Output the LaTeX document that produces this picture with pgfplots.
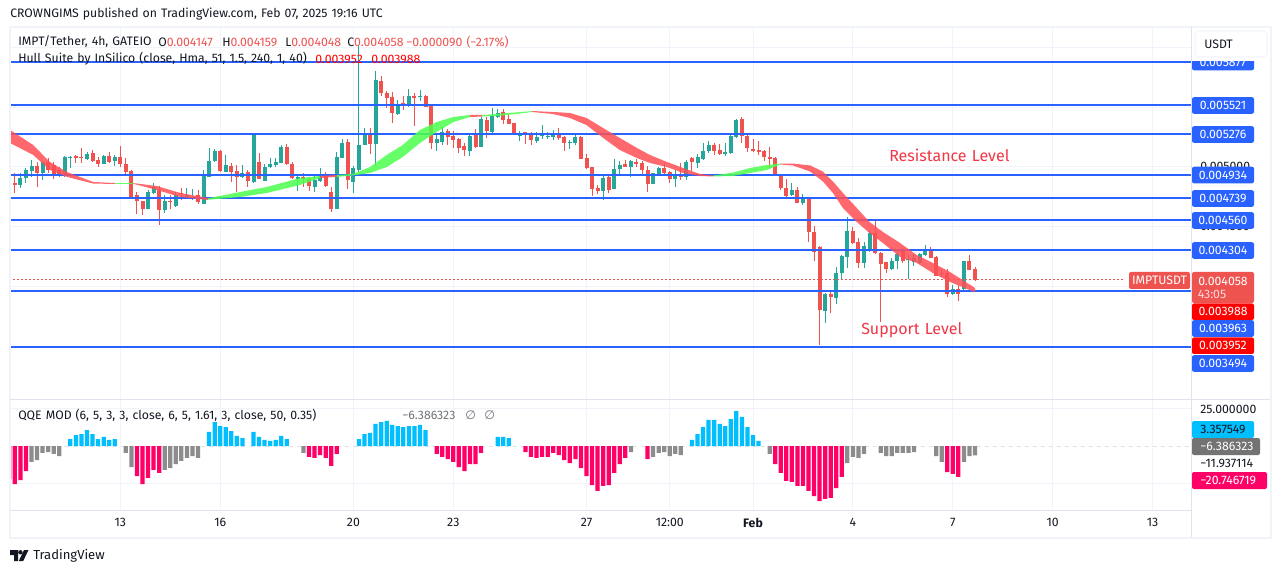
\documentclass[border=0pt]{standalone}
\usepackage{fontspec}
\setmainfont{Fira Sans}[WordSpace=1.25]
\newfontfamily\sym{DejaVu Sans}
\usepackage{pgfplots}
\usepackage{pgfplotstable}
\pgfplotsset{compat=1.18}
\definecolor{cg}{HTML}{26A69A}
\definecolor{cr}{HTML}{EF5350}
\definecolor{lb}{HTML}{2962FF}
\definecolor{hr}{HTML}{FF4F55}
\definecolor{hg}{HTML}{4DFF4D}
\definecolor{qb}{HTML}{00BFFF}
\definecolor{qp}{HTML}{FF0066}
\definecolor{qg}{HTML}{8C8C8C}
\definecolor{gr}{HTML}{F0F3FA}
\definecolor{fr}{HTML}{E0E3EB}
\definecolor{tx}{HTML}{131722}
\definecolor{lab}{HTML}{F23645}
\pgfplotstableread{
i o h l c
2 4849 4947 4827 4905
3 4910 4994 4863 4974
4 4966 5058 4919 5008
6 4952 5053 4891 5039
10 4924 5092 4919 5086
11 5075 5092 4988 5080
14 5064 5128 5058 5108
17 5025 5100 5025 5092
19 5050 5100 5008 5086
25 4648 4807 4648 4788
26 4779 4869 4774 4830
28 4640 4765 4618 4715
30 4673 4788 4668 4765
32 4738 4821 4729 4765
33 4740 4813 4724 4751
35 4690 4974 4690 4933
36 4919 5156 4919 5050
37 5050 5150 5044 5136
39 4961 5100 4961 5016
42 4913 5016 4905 4947
44 4877 5281 4869 5281
46 4885 5025 4885 5002
47 4997 5072 4988 5025
48 5016 5072 5002 5044
49 5030 5183 5030 5170
52 4899 4941 4802 4919
55 4835 4924 4793 4891
56 4883 4988 4877 4924
59 4648 5127 4648 5085
60 5077 5233 5077 5202
62 4876 5007 4779 4988
63 4974 6020 4960 5183
64 5183 5322 5183 5280
66 5191 5801 5015 5726
70 5442 5559 5434 5526
72 5512 5651 5509 5595
74 5587 5643 5553 5592
77 5202 5272 5135 5236
78 5205 5342 5183 5294
83 5133 5280 5091 5258
85 5169 5420 5169 5397
87 5291 5489 5280 5428
88 5420 5481 5411 5447
92 5258 5300 5219 5280
95 5216 5289 5202 5252
96 5261 5350 5230 5275
97 5250 5289 5230 5258
98 5252 5308 5225 5286
101 5205 5225 5149 5211
102 5197 5266 5183 5252
107 4801 4937 4723 4910
109 4815 5066 4815 4982
110 4982 5049 4940 5015
112 4999 5057 4918 5049
116 4857 4951 4857 4946
117 4940 5002 4935 4990
120 4898 4974 4829 4940
122 4912 5057 4890 5041
124 5029 5108 4988 5082
125 5066 5202 5057 5133
126 5130 5216 5113 5183
129 5110 5197 5091 5124
130 5119 5266 5113 5258
131 5252 5400 5244 5392
141 4765 4862 4759 4804
143 4701 4773 4681 4737
147 3798 3943 3697 3937
149 3901 4165 3853 4115
150 4110 4263 4062 4257
151 4249 4578 4157 4464
154 4199 4375 4157 4338
155 4299 4472 4291 4450
159 4149 4241 4138 4213
160 4213 4305 4143 4271
162 4218 4271 4062 4227
163 4207 4269 4174 4241
164 4199 4283 4193 4271
165 4263 4347 4257 4310
170 3940 4012 3929 3976
172 3976 4213 3970 4210
}\tblG
\pgfplotstableread{
i o h l c
0 5044 5044 4863 4863
1 4869 4947 4785 4849
5 5008 5044 4835 4947
7 5044 5072 4952 4974
8 5016 5044 4899 4941
9 4974 5002 4919 4933
12 5092 5100 5036 5072
13 5083 5161 5030 5075
15 5117 5142 5044 5053
16 5058 5086 4997 5022
18 5092 5128 5030 5041
20 5086 5175 5002 5022
21 5022 5072 4927 4955
22 4966 4974 4738 4751
23 4765 4793 4607 4715
24 4715 4715 4598 4648
27 4807 4841 4515 4640
29 4718 4765 4646 4710
31 4785 4821 4724 4771
34 4765 4807 4687 4704
38 5136 5142 4961 4966
40 5008 5030 4877 4955
41 4966 5016 4793 4919
43 4961 4974 4830 4885
45 5044 5114 4899 4899
50 5170 5192 5016 5022
51 5022 5044 4896 4910
53 4913 4947 4830 4899
54 4899 4919 4802 4841
57 4924 4960 4834 4840
58 4787 4834 4625 4650
61 5205 5233 4812 4890
65 5266 5322 5107 5188
67 5718 5760 5595 5620
68 5620 5637 5489 5573
69 5587 5629 5364 5453
71 5537 5592 5475 5517
73 5592 5620 5342 5573
75 5595 5604 5498 5503
76 5517 5517 5146 5197
79 5300 5314 5183 5252
80 5258 5303 5155 5225
81 5236 5244 5113 5160
82 5174 5202 5091 5141
84 5275 5316 5155 5169
86 5392 5414 5244 5300
89 5459 5481 5358 5392
90 5397 5434 5358 5358
91 5364 5369 5266 5272
93 5289 5294 5191 5277
94 5280 5294 5183 5225
99 5286 5322 5225 5244
100 5252 5258 5135 5202
103 5252 5258 5066 5066
104 5071 5105 4979 4990
105 4999 4999 4759 4818
106 4820 4848 4773 4801
108 4912 4940 4784 4806
111 5021 5057 4996 5002
113 5038 5066 4996 5024
114 5032 5052 4932 4974
115 4974 5007 4790 4857
118 4988 5029 4940 4951
119 4960 4968 4868 4898
121 4940 5029 4890 4915
123 5077 5085 4965 5038
127 5183 5197 5099 5135
128 5141 5188 5099 5108
132 5397 5414 5202 5261
133 5258 5280 5127 5158
134 5147 5233 5127 5135
135 5141 5219 5099 5121
136 5133 5141 5052 5080
137 5082 5163 4988 5066
138 5074 5080 4924 4935
139 4940 4940 4807 4823
140 4823 4896 4745 4756
142 4807 4829 4695 4701
144 4737 4742 4375 4453
145 4453 4506 4213 4291
146 4333 4338 3511 3803
148 3937 3956 3775 3915
152 4464 4500 4355 4361
153 4372 4402 4152 4199
156 4450 4556 4271 4277
157 4283 4285 3706 4191
158 4205 4205 4115 4149
161 4310 4319 4199 4213
166 4310 4333 4235 4241
167 4249 4257 4090 4090
168 4110 4146 4082 4104
169 4110 4146 3915 3940
171 3976 4012 3878 3940
173 4210 4263 4135 4138
174 4147 4159 4048 4058
}\tblR
\pgfplotstableread{
i v
11 4.7
12 7.4
13 8.1
14 10.8
15 8.1
16 4.7
17 6.1
18 4.1
19 4.7
36 9.5
37 16.2
38 13.5
39 12.8
40 10.1
41 6.8
42 5.4
44 9.5
45 6.1
46 4.1
47 3.4
48 4.1
49 6.8
50 4.7
63 4.7
64 8.1
65 8.8
66 14.9
67 16.2
68 16.9
69 14.2
70 13.5
71 12.8
72 13.5
73 13.5
74 14.2
75 10.8
88 6.1
89 6.1
90 5.4
123 4.1
124 8.1
125 12.8
126 17.6
127 17.6
128 14.9
129 13.5
130 18.2
131 23.6
132 19.6
133 12.8
134 7.4
135 3.4
}\tblQB
\pgfplotstableread{
i v
0 -22.3
1 -25.7
2 -23.0
3 -16.9
23 -20.3
24 -25.7
25 -21.6
26 -16.2
27 -18.2
54 -7.4
55 -8.1
56 -6.1
57 -8.1
58 -13.5
59 -5.4
77 -5.4
78 -7.4
79 -8.8
80 -10.8
81 -14.2
82 -16.9
83 -12.2
84 -12.2
85 -4.7
93 -4.1
94 -7.4
95 -8.1
96 -7.4
97 -7.4
98 -4.7
99 -6.1
100 -9.5
101 -11.5
102 -8.8
103 -14.9
104 -20.3
105 -26.4
106 -30.4
107 -27.0
108 -26.4
109 -18.2
110 -12.2
111 -8.1
115 -8.8
138 -12.2
139 -18.2
140 -23.6
141 -24.3
142 -27.0
143 -27.0
144 -30.4
145 -33.8
146 -37.2
147 -35.8
148 -35.1
149 -28.4
150 -20.9
169 -17.6
170 -18.9
171 -20.9
}\tblQP
\pgfplotstableread{
i v
4 -10.8
5 -9.5
6 -4.7
7 -4.1
8 -5.4
9 -6.8
21 -4.7
22 -14.2
28 -16.2
29 -14.9
30 -12.2
31 -10.1
32 -8.1
33 -6.8
34 -8.1
53 -4.7
112 -4.1
116 -7.4
117 -4.7
118 -4.1
119 -6.8
120 -5.4
121 -6.1
137 -5.4
151 -11.5
152 -7.4
153 -8.1
154 -5.4
157 -4.7
158 -6.8
159 -6.8
160 -4.7
161 -4.7
162 -4.7
163 -4.1
167 -6.8
168 -10.8
172 -10.8
173 -6.8
174 -6.386
}\tblQG
\begin{document}
\begin{tikzpicture}
\fill[white] (0,0) rectangle (960.75pt,-429.75pt);
\begin{axis}[
  at={(7.5pt,-299.25pt)},anchor=south west,
  scale only axis,width=885.75pt,height=278.25pt,
  xmin=0.126,xmax=212.919,ymin=3059.4,ymax=6161.3,
  axis line style={draw=none},tick style={draw=none},
  xtick={20,38,62,80,104,119,134,152,170,188,206},xticklabels={},
  ytick={3500,4000,4500,5000,5500,6000},yticklabels={},
  grid=major,grid style={gr,line width=0.75pt},
]
% candles
\addplot[draw=none,mark=none,forget plot,error bars/.cd,y dir=both,y explicit,error mark=none,error bar style={draw=cg,line width=0.75pt}]
 table[x=i,y=o,y error plus expr=\thisrow{h}-\thisrow{o},y error minus expr=\thisrow{o}-\thisrow{l}] {\tblG};
\addplot[draw=none,mark=none,forget plot,error bars/.cd,y dir=both,y explicit,error mark=none,error bar style={draw=cr,line width=0.75pt}]
 table[x=i,y=o,y error plus expr=\thisrow{h}-\thisrow{o},y error minus expr=\thisrow{o}-\thisrow{l}] {\tblR};
\addplot[draw=none,mark=none,forget plot,error bars/.cd,y dir=plus,y explicit,error mark=none,error bar style={draw=cg,line width=3pt}]
 table[x=i,y=o,y error plus expr=\thisrow{c}-\thisrow{o}] {\tblG};
\addplot[draw=none,mark=none,forget plot,error bars/.cd,y dir=minus,y explicit,error mark=none,error bar style={draw=cr,line width=3pt}]
 table[x=i,y=o,y error minus expr=\thisrow{o}-\thisrow{c}] {\tblR};
% levels
\addplot[lb,line width=1.5pt,forget plot] coordinates {(0,5877)(213,5877)};
\addplot[lb,line width=1.5pt,forget plot] coordinates {(0,5521)(213,5521)};
\addplot[lb,line width=1.5pt,forget plot] coordinates {(0,5276)(213,5276)};
\addplot[lb,line width=1.5pt,forget plot] coordinates {(0,4934)(213,4934)};
\addplot[lb,line width=1.5pt,forget plot] coordinates {(0,4739)(213,4739)};
\addplot[lb,line width=1.5pt,forget plot] coordinates {(0,4560)(213,4560)};
\addplot[lb,line width=1.5pt,forget plot] coordinates {(0,4304)(213,4304)};
\addplot[lb,line width=1.5pt,forget plot] coordinates {(0,3963)(213,3963)};
\addplot[lb,line width=1.5pt,forget plot] coordinates {(0,3494)(213,3494)};
\addplot[cr,line width=0.8pt,dash pattern=on 1pt off 2pt,forget plot] coordinates {(0,4058)(201,4058)};
% hull bands
\addplot[fill=hr,draw=none,fill opacity=0.85,forget plot] coordinates {(0.13,5309)(4.3,5183)(7.3,5041)(10.4,4957)(15.1,4874)(19,4865)(19,4857)(15.1,4861)(10.4,4916)(7.3,4974)(4.3,5100)(0.13,5200)} -- cycle;
\addplot[fill=hg,draw=none,fill opacity=0.85,forget plot] coordinates {(19,4864)(22.4,4864)(22.4,4858)(19,4858)} -- cycle;
\addplot[fill=hr,draw=none,fill opacity=0.85,forget plot] coordinates {(22.4,4864)(26.6,4840)(30.8,4782)(35.8,4740)(35.8,4723)(30.8,4748)(26.6,4807)(22.4,4858)} -- cycle;
\addplot[fill=hg,draw=none,fill opacity=0.85,forget plot] coordinates {(35.8,4738)(41.6,4790)(46.4,4832)(52.4,4907)(56,4924)(56,4907)(52.4,4849)(46.4,4782)(41.6,4748)(35.8,4725)} -- cycle;
\addplot[fill=hr,draw=none,fill opacity=0.85,forget plot] coordinates {(56,4924)(59,4932)(59,4916)(56,4907)} -- cycle;
\addplot[fill=hg,draw=none,fill opacity=0.85,forget plot] coordinates {(59,4932)(61.9,4941)(65,4999)(68,5100)(70.9,5183)(74,5309)(77,5375)(80,5417)(83,5434)(83,5417)(80,5375)(77,5292)(74,5200)(70.9,5083)(68,4999)(65,4949)(61.9,4928)(59,4916)} -- cycle;
\addplot[fill=hr,draw=none,fill opacity=0.85,forget plot] coordinates {(83,5434)(85.2,5434)(85.2,5421)(83,5417)} -- cycle;
\addplot[fill=hg,draw=none,fill opacity=0.85,forget plot] coordinates {(85.2,5434)(89,5447)(94.2,5467)(94.2,5459)(89,5430)(85.2,5421)} -- cycle;
\addplot[fill=hr,draw=none,fill opacity=0.85,forget plot] coordinates {(94.2,5467)(98,5459)(101,5451)(104,5409)(107,5325)(110,5242)(113.1,5158)(115.4,5100)(118.5,5041)(121.4,4991)(124.4,4941)(126.8,4928)(126.8,4920)(124.4,4924)(121.4,4949)(118.5,4999)(115.4,5033)(113.1,5074)(110,5141)(107,5242)(104,5350)(101,5409)(98,5442)(94.2,5459)} -- cycle;
\addplot[fill=hg,draw=none,fill opacity=0.85,forget plot] coordinates {(126.8,4928)(130.4,4952)(133.5,4991)(136.5,5016)(138.9,5028)(138.9,5020)(136.5,4974)(133.5,4949)(130.4,4924)(126.8,4920)} -- cycle;
\addplot[fill=hr,draw=none,fill opacity=0.85,forget plot] coordinates {(138.9,5028)(141.2,5028)(144.3,5012)(146.6,4961)(148.4,4878)(150.2,4782)(152.7,4656)(155,4539)(157.4,4456)(160.5,4364)(163.5,4263)(166.4,4197)(169.5,4121)(174,3988)(174,3952)(169.5,4038)(166.4,4113)(163.5,4197)(160.5,4247)(157.4,4364)(155,4447)(152.7,4539)(150.2,4656)(148.4,4782)(146.6,4878)(144.3,4961)(141.2,5012)(138.9,5020)} -- cycle;
\end{axis}
\begin{axis}[
  at={(7.5pt,-300pt)},anchor=north west,
  scale only axis,width=885.75pt,height=82.5pt,
  xmin=0.126,xmax=212.919,ymin=-43.24,ymax=31.08,
  axis line style={draw=none},tick style={draw=none},
  xtick={20,38,62,80,104,119,134,152,170,188,206},
  xticklabels={13,16,20,23,27,12:00,\textbf{Feb},4,7,10,13},
  xticklabel style={font=\fontsize{9.2pt}{10pt}\selectfont,text=tx,inner sep=0pt,yshift=-6pt},
  ytick={-25,25},yticklabels={},
  grid=major,grid style={gr,line width=0.75pt},
]
\addplot[gr!60!gray!50,dashed,line width=0.5pt,forget plot] coordinates {(0,0)(213,0)};
\addplot[ybar,bar width=3.2pt,bar shift=0pt,fill=qb,draw=none,forget plot] table[x=i,y=v] {\tblQB};
\addplot[ybar,bar width=3.2pt,bar shift=0pt,fill=qp,draw=none,forget plot] table[x=i,y=v] {\tblQP};
\addplot[ybar,bar width=3.2pt,bar shift=0pt,fill=qg,draw=none,forget plot] table[x=i,y=v] {\tblQG};
\end{axis}
\begin{scope}[x=0.75pt,y=-0.75pt,every node/.style={inner sep=0pt,text=tx,font=\fontsize{9.2pt}{10pt}\selectfont},
  tag/.style={fill=#1,rounded corners=1.5pt,draw=none}]
% frame
\draw[gr,line width=1.5pt] (9.5,27) rectangle (1270.5,537.5);
\draw[fr,line width=0.75pt] (1191,27) -- (1191,537);
\draw[fr,line width=0.75pt] (10,399.5) -- (1270,399.5);
\draw[fr,line width=0.75pt] (10,510.5) -- (1191,510.5);
% header
\node[anchor=west] at (10,14) {CROWNGIMS published on TradingView.com, Feb 07, 2025 19:16 UTC};
\node[anchor=west] at (18,42) {IMPT/Tether, 4h, GATEIO};
\node[anchor=west] at (158,42) {O\textcolor{cr}{0.004147}};
\node[anchor=west] at (222,42) {H\textcolor{cr}{0.004159}};
\node[anchor=west] at (285,42) {L\textcolor{cr}{0.004048}};
\node[anchor=west] at (347,42) {C\textcolor{cr}{0.004058}};
\node[anchor=west,text=cr] at (406,42) {−0.000090 (−2.17\%)};
\node[anchor=west] at (18,59) {Hull Suite by InSilico (close, Hma, 51, 1.5, 240, 1, 40)};
\node[anchor=west,text=red] at (315,59) {0.003952};
\node[anchor=west,text=red] at (371,59) {0.003988};
\node[anchor=west] at (18,415) {QQE MOD (6, 5, 3, 3, close, 6, 5, 1.61, 3, close, 50, 0.35)};
\node[anchor=west,text=tx!60] at (402,415) {−6.386323};
\node[anchor=west,text=tx!60] at (465,415) {\sym ∅};
\node[anchor=west,text=tx!60] at (484,415) {\sym ∅};
% annotations
\node[anchor=west,text=lab,font=\fontsize{12pt}{14pt}\selectfont] at (889,155) {Resistance Level};
\node[anchor=west,text=lab,font=\fontsize{12pt}{14pt}\selectfont] at (861,330) {Support Level};
% price scale
\node[anchor=west] at (1200,166.5) {0.005000};
\node[anchor=west] at (1200,226.5) {0.004500};
\foreach \y/\t in {62/0.005877,105.5/0.005521,134.5/0.005276,175/0.004934,198.5/0.004739,220.5/0.004560,250.5/0.004304,328.5/0.003963,363.5/0.003494}{
  \path[tag=lb] (1192,\y-8.3) rectangle (1254,\y+8.3);
  \node[anchor=center,text=white] at (1223,\y) {\t};
}
\path[tag=cr] (1129,272) rectangle (1190,289);
\node[anchor=center,text=white] at (1159.5,280.5) {IMPTUSDT};
\path[tag=cr] (1192,272) rectangle (1254,303);
\node[anchor=center,text=white] at (1223,281) {0.004058};
\node[anchor=center,text=white!80!cr] at (1212,294.5) {43:05};
\path[tag=red] (1192,303.5) rectangle (1254,320);
\node[anchor=center,text=white] at (1223,311.5) {0.003988};
\path[tag=red] (1192,337.5) rectangle (1254,354);
\node[anchor=center,text=white] at (1223,345.5) {0.003952};
\fill[white] (1192,28) rectangle (1269.5,60.8);
\path[fill=white,draw=gr,line width=0.75pt,rounded corners=3pt] (1195,31) rectangle (1267,57);
\node[anchor=west] at (1204,44) {USDT};
% QQE scale
\node[anchor=west] at (1200,409.5) {25.000000};
\path[tag=qb] (1192,421) rectangle (1254,438);
\node[anchor=center] at (1223,429.5) {3.357549};
\path[tag={black!55}] (1192,438) rectangle (1260,455);
\node[anchor=west,text=white] at (1200,446.5) {−6.386323};
\node[anchor=west] at (1200,463.5) {−11.937114};
\path[tag=qp] (1192,472) rectangle (1267,489);
\node[anchor=west,text=white] at (1200,480.5) {−20.746719};
% logo
\fill[tx] (10,550) -- (18,550) -- (18,561) -- (14,561) -- (14,555) -- (10,555) -- cycle;
\fill[tx] (20.4,552.3) circle (2.2);
\fill[tx] (24,550) -- (28.5,550) -- (23.2,561) -- (18.8,561) -- cycle;
\node[anchor=west,font=\fontsize{9.8pt}{12pt}\selectfont] at (33,555.5) {TradingView};
\end{scope}
\end{tikzpicture}
\end{document}
